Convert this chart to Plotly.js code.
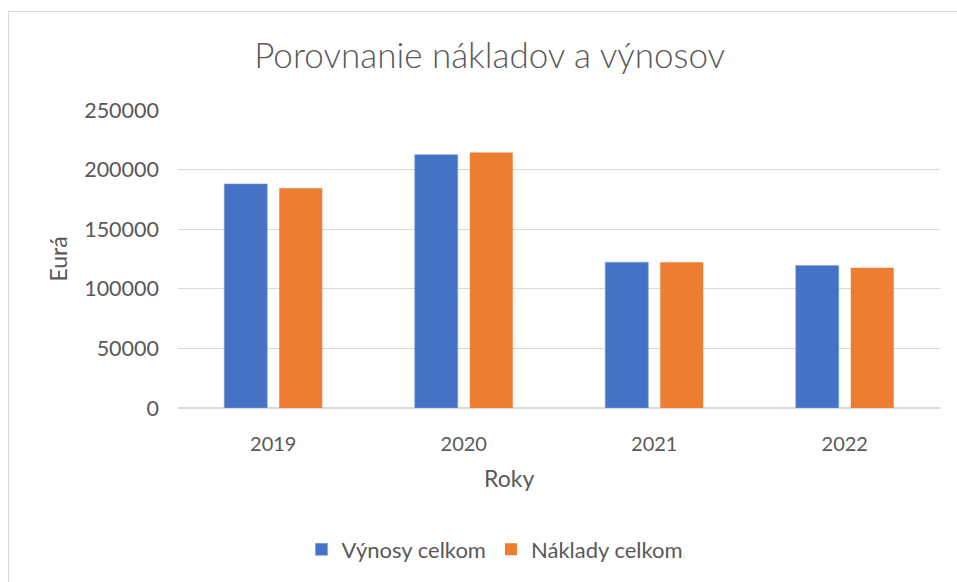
<!DOCTYPE html>
<html>
<head>
<meta charset="utf-8">
<script src="https://cdn.plot.ly/plotly-3.0.1.min.js"></script>
<style>
html,body{margin:0;padding:0;background:#fff;}
#chart{width:957px;height:582px;}
#frame{position:absolute;left:8px;top:11px;width:960px;height:580px;border-left:1.5px solid #d9d9d9;border-top:1.5px solid #d9d9d9;pointer-events:none;}
</style>
</head>
<body>
<div id="chart"></div>
<div id="frame"></div>
<script>
const years = ["2019", "2020", "2021", "2022"];
const vynosy = [188000, 212500, 122300, 119500];
const naklady = [184300, 214300, 122300, 117600];
const seriesNames = ["Výnosy celkom", "Náklady celkom"];
const yTicks = [0, 50000, 100000, 150000, 200000, 250000];

const FONT = "Lato, Carlito, Calibri, sans-serif";
const GREY = "#595959";

const traces = [
  {type: "bar", name: seriesNames[0], x: years, y: vynosy,
   marker: {color: "#4472C4", line: {color: "#7f9fd8", width: 0.6}}},
  {type: "bar", name: seriesNames[1], x: years, y: naklady,
   marker: {color: "#ED7D31"}}
];

const layout = {
  width: 957, height: 582,
  margin: {l: 178, r: 17, t: 110, b: 174},
  paper_bgcolor: "#fff", plot_bgcolor: "#fff",
  font: {family: FONT, color: GREY},
  barmode: "group",
  bargap: 0.4226,
  bargroupgap: 0.218,
  showlegend: true,
  title: {text: "Porovnanie nákladov a výnosov", font: {family: FONT, size: 35, weight: 300, color: GREY},
          xref: "paper", x: 0.409, xanchor: "center", yref: "container", y: 0.905, yanchor: "middle"},
  xaxis: {type: "category", showgrid: false, zeroline: false, showline: false,
          ticks: "", tickfont: {size: 20, color: GREY}, ticklabelstandoff: 22},
  yaxis: {range: [0, 250000], tickvals: yTicks, ticktext: yTicks.map(String),
          showgrid: true, gridcolor: "#d9d9d9", gridwidth: 1,
          zeroline: true, zerolinecolor: "#d9d9d9", zerolinewidth: 1.5,
          showline: false, ticks: "", tickfont: {size: 21.5, color: GREY}, ticklabelstandoff: 18,
          title: {text: "Eurá", font: {size: 23, color: GREY}, standoff: 10}},
  legend: {orientation: "h", xref: "paper", x: 0.416, xanchor: "center", yref: "paper", y: -0.475, yanchor: "middle",
           font: {size: 22, color: GREY}, itemwidth: 30, traceorder: "normal"},
  annotations: [
    {text: "Roky", xref: "paper", yref: "paper", x: 0.434, y: (408 - 478) / 297, xanchor: "center", yanchor: "middle",
     showarrow: false, font: {size: 23, color: GREY, family: FONT}}
  ]
};

Plotly.newPlot("chart", traces, layout, {displayModeBar: false, staticPlot: true});
</script>
</body>
</html>
